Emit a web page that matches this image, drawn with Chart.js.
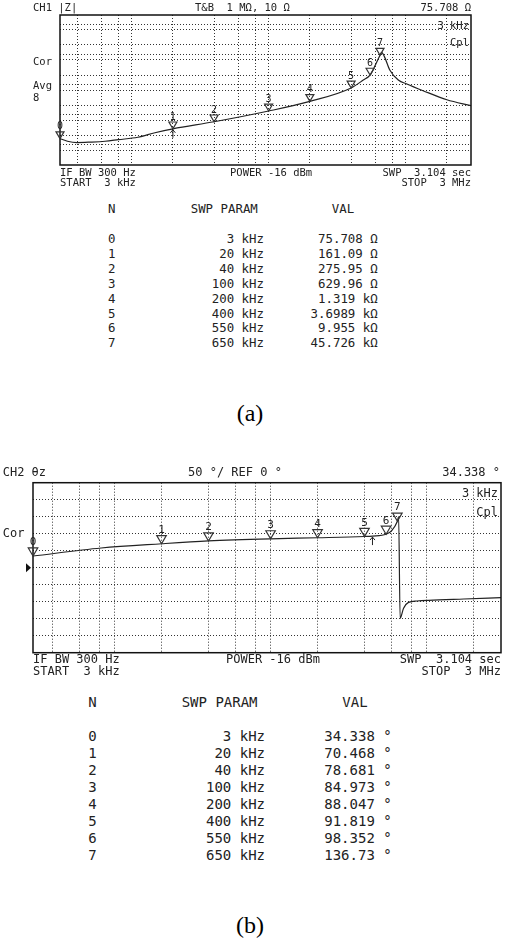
<!DOCTYPE html>
<html>
<head>
<meta charset="utf-8">
<script src="https://cdn.jsdelivr.net/npm/chart.js@4.4.1/dist/chart.umd.min.js"></script>
<style>
  html, body { margin: 0; padding: 0; background: #fff; }
  body { width: 505px; height: 940px; position: relative; overflow: hidden;
         font-family: "DejaVu Sans Mono", monospace; color: #222; }
  .box { position: absolute; left: 0; width: 505px; height: 190px; }
  .t { position: absolute; white-space: pre; line-height: 1; transform: translateY(-50%); }
  .cap { font-family: "Liberation Serif", serif; color: #000; }
</style>
</head>
<body>
<div class="box" style="top:0"><canvas id="chartA" width="505" height="190"></canvas></div>
<div class="box" style="top:475px"><canvas id="chartB" width="505" height="190"></canvas></div>
<script>
// marker table (same sweep points on both channels)
const markerFreq = [3e3, 20e3, 40e3, 100e3, 200e3, 400e3, 550e3, 650e3];
const markerZ = [75.708, 161.09, 275.95, 629.96, 1319, 3698.9, 9955, 45726];
const markerPhase = [34.338, 70.468, 78.681, 84.973, 88.047, 91.819, 98.352, 136.73];

// traces
const freqA = [3000, 3400, 4000, 5000, 6400, 8000, 11100, 14800, 20000, 40000, 100000, 200000, 400000,
               491000, 550000, 600000, 650000, 668000, 700000, 766000, 884000, 1020000, 1340000, 2000000, 3000000];
const zA = [75.7, 62, 56, 58, 62, 70, 84, 119, 161.09, 275.95, 629.96, 1319, 3698.9,
            6800, 9955, 21000, 45726, 57000, 41000, 14700, 6800, 5000, 3000, 1500, 950];

const freqB = [3000, 8200, 20000, 40000, 100000, 200000, 400000, 450000, 550000, 600000, 650000, 662000,
               677000, 712000, 766000, 867000, 1030000, 1730000, 3000000];
const phaseB = [34.338, 58, 70.468, 78.681, 84.973, 88.047, 91.819, 93, 98.352, 110, 136.73, 150,
                -149, -119, -102, -98, -96, -92, -88];

// graticule
const gridFreq = [4e3, 6e3, 8e3, 1e4, 2e4, 4e4, 6e4, 8e4, 1e5, 2e5, 4e5, 6e5, 8e5, 1e6, 2e6];
const gridZ = [31.6, 50, 100, 316, 500, 1000, 3162, 5000, 1e4, 31623, 5e4, 1e5, 316228, 5e5];

function put(txt, x, y, size, align, cls) {
    const d = document.createElement('div');
    d.className = 't' + (cls ? ' ' + cls : '');
    d.textContent = txt;
    d.style.fontSize = size + 'px';
    d.style.top = y + 'px';
    if (align === 'right') d.style.right = (505 - x) + 'px';
    else d.style.left = x + 'px';
    if (align === 'center') d.style.transform = 'translate(-50%,-50%)';
    document.body.appendChild(d);
}

function fmt5(v) { return Number(v.toPrecision(5)).toString(); }

// frame, marker triangles, active marker arrow, ref pointer
const markerPlugin = {
    id: 'markers',
    afterDraw(chart, args, o) {
        const { ctx, chartArea: a } = chart;
        const x = chart.scales.x, y = chart.scales.y;
        ctx.save();
        ctx.setLineDash([]);
        ctx.strokeStyle = '#111';
        ctx.lineWidth = 1.5;
        ctx.strokeRect(a.left, a.top, a.right - a.left, a.bottom - a.top);

        ctx.font = o.font;
        ctx.textAlign = 'center';
        ctx.textBaseline = 'bottom';
        o.freqs.forEach((f, i) => {
            const px = x.getPixelForValue(f), py = y.getPixelForValue(o.vals[i]);
            const w = o.size, h = o.size * 0.85;
            ctx.beginPath();
            ctx.moveTo(px, py);
            ctx.lineTo(px - w / 2, py - h);
            ctx.lineTo(px + w / 2, py - h);
            ctx.closePath();
            ctx.strokeStyle = '#333';
            ctx.lineWidth = 1.2;
            ctx.stroke();
            ctx.fillStyle = '#222';
            ctx.fillText(String(i), px, py - h);
        });

        if (o.arrow) {
            const px = x.getPixelForValue(o.arrow[0]), py = y.getPixelForValue(o.arrow[1]) + 1;
            ctx.strokeStyle = '#222';
            ctx.lineWidth = 1;
            ctx.beginPath();
            ctx.moveTo(px, py); ctx.lineTo(px, py + 8);
            ctx.moveTo(px - 2.5, py + 3); ctx.lineTo(px, py); ctx.lineTo(px + 2.5, py + 3);
            ctx.stroke();
        }
        if (o.ref !== undefined) {
            const ry = y.getPixelForValue(o.ref);
            ctx.fillStyle = '#111';
            ctx.beginPath();
            ctx.moveTo(a.left - 2, ry);
            ctx.lineTo(a.left - 7, ry - 4.5);
            ctx.lineTo(a.left - 7, ry + 4.5);
            ctx.closePath();
            ctx.fill();
        }
        ctx.restore();
    }
};

function axis(type, min, max, ticks) {
    const s = {
        type: type, min: min, max: max,
        ticks: { display: false },
        grid: { color: '#333', lineWidth: 1, drawTicks: false },
        border: { display: false, dash: [1, 2] }
    };
    if (ticks) s.afterBuildTicks = sc => { sc.ticks = ticks.map(v => ({ value: v })); };
    else s.ticks.stepSize = 50;
    return s;
}

function makeChart(id, fx, fy, pad, yAxis, mk) {
    return new Chart(document.getElementById(id), {
        type: 'line',
        data: {
            datasets: [{
                data: fx.map((f, i) => ({ x: f, y: fy[i] })),
                borderColor: '#222',
                borderWidth: 1.2,
                pointRadius: 0,
                cubicInterpolationMode: 'monotone',
                fill: false
            }]
        },
        options: {
            responsive: false,
            animation: false,
            events: [],
            layout: { padding: pad },
            plugins: { legend: { display: false }, tooltip: { enabled: false }, markers: mk },
            scales: {
                x: axis('logarithmic', 3000, 3e6, gridFreq),
                y: yAxis
            }
        },
        plugins: [markerPlugin]
    });
}

makeChart('chartA', freqA, zA, { left: 60, top: 15, right: 34, bottom: 25 },
    axis('logarithmic', 10, 1e6, gridZ),
    { freqs: markerFreq, vals: markerZ, size: 8, font: '10px "DejaVu Sans Mono"', arrow: [20e3, 161.09] });

makeChart('chartB', freqB, phaseB, { left: 33, top: 7.7, right: 4, bottom: 12.3 },
    axis('linear', -250, 250, null),
    { freqs: markerFreq, vals: markerPhase, size: 9.5, font: '11px "DejaVu Sans Mono"', arrow: [450e3, 93], ref: 0 });

// screen annotations, channel 1
put('CH1 |Z|', 33, 7, 10.5);
put('T&B  1 MΩ, 10 Ω', 195, 7, 10.5);
put(fmt5(markerZ[0]) + ' Ω', 471, 7, 10.5, 'right');
put('Cor', 33, 60.5, 10.5);
put('Avg', 33, 84.5, 10.5);
put('8', 33, 97, 10.5);
put('3 kHz', 469, 25, 10.5, 'right');
put('Cpl', 469, 42, 10.5, 'right');
put('IF BW 300 Hz', 60, 172, 10.5);
put('START  3 kHz', 60, 181.7, 10.5);
put('POWER -16 dBm', 230, 172, 10.5);
put('SWP  3.104 sec', 471, 172, 10.5, 'right');
put('STOP  3 MHz', 471, 181.7, 10.5, 'right');

// channel 2
put('CH2 θz', 2.7, 472, 12);
put('50 °/ REF 0 °', 188, 472, 12);
put(fmt5(markerPhase[0]) + ' °', 500, 472, 12, 'right');
put('Cor', 2.7, 533.3, 12);
put('3 kHz', 498, 493.3, 12, 'right');
put('Cpl', 498, 511.7, 12, 'right');
put('IF BW 300 Hz', 33, 659.3, 12);
put('START  3 kHz', 33, 670.5, 12);
put('POWER -16 dBm', 226, 659.3, 12);
put('SWP  3.104 sec', 501, 659.3, 12, 'right');
put('STOP  3 MHz', 501, 670.5, 12, 'right');

// marker tables
function table(y0, yRow, dy, size, xN, xP, xPr, xV, xVr, valText) {
    put('N', xN, y0, size);
    put('SWP PARAM', xP, y0, size);
    put('VAL', xV, y0, size, 'center');
    markerFreq.forEach((f, i) => {
        const y = yRow + i * dy;
        put(String(i), xN, y, size);
        put((f / 1000) + ' kHz', xPr, y, size, 'right');
        put(valText(i), xVr, y, size, 'right');
    });
}
table(209, 239, 14.9, 12.4, 108, 190.7, 264, 343, 377.7,
    i => markerZ[i] >= 1000 ? fmt5(markerZ[i] / 1000) + ' kΩ' : fmt5(markerZ[i]) + ' Ω');
table(701.7, 735.7, 17, 14, 88.3, 181.7, 265, 355, 391.7,
    i => fmt5(markerPhase[i]) + ' °');

put('(a)', 250, 412.7, 24, 'center', 'cap');
put('(b)', 250, 924.5, 24, 'center', 'cap');
</script>
</body>
</html>
